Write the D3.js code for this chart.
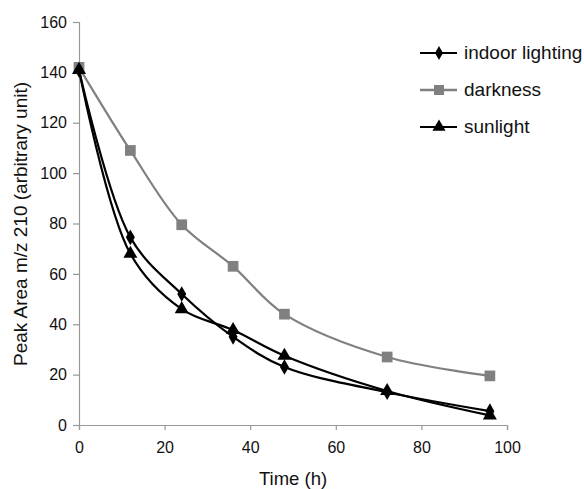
<!DOCTYPE html>
<html lang="en">
<head>
  <meta charset="UTF-8">
  <title>Peak Area vs Time</title>
  <style>
    body { margin: 0; padding: 0; background: #fff; }
    svg text { font-family: "Liberation Sans", Arial, sans-serif; fill: #111; }
  </style>
</head>
<body>
  <script src="https://cdn.jsdelivr.net/npm/d3@7"></script>
  <div id="chart"></div>
  <script>
    // data
    var hours = [0, 12, 24, 36, 48, 72, 96];
    var indoor = [141, 74.5, 52, 35, 23, 13, 5.5];
    var darkness = [142, 109, 79.5, 63, 44, 27, 19.5];
    var sunlight = [141, 68, 46, 37.7, 27.5, 13.5, 3.8];
    var seriesNames = ["indoor lighting", "darkness", "sunlight"];
    var yTicks = [0, 20, 40, 60, 80, 100, 120, 140, 160];
    var xTicks = [0, 20, 40, 60, 80, 100];

    var series = [
      { name: seriesNames[0], values: indoor, color: "#000", marker: "diamond" },
      { name: seriesNames[1], values: darkness, color: "#808080", marker: "square" },
      { name: seriesNames[2], values: sunlight, color: "#000", marker: "triangle" }
    ];

    var W = 584, H = 489;
    var svg = d3.select("#chart").append("svg")
      .attr("width", W)
      .attr("height", H);

    var x = d3.scaleLinear().domain([0, 100]).range([79, 507]);
    var y = d3.scaleLinear().domain([0, 160]).range([425, 22]);

    // axes
    var axisColor = "#999";
    var yAxis = svg.append("g")
      .attr("transform", "translate(" + x(0) + ",0)")
      .call(d3.axisLeft(y).tickValues(yTicks).tickSize(6).tickPadding(6));
    var xAxis = svg.append("g")
      .attr("transform", "translate(0," + y(0) + ")")
      .call(d3.axisBottom(x).tickValues(xTicks).tickSize(5).tickPadding(12));
    [xAxis, yAxis].forEach(function (g) {
      g.select(".domain").attr("stroke", axisColor).attr("stroke-width", 1.2);
      g.selectAll(".tick line").attr("stroke", axisColor).attr("stroke-width", 1.2);
      g.selectAll(".tick text")
        .style("font-size", "16px")
        .style("font-family", "'Liberation Sans', Arial, sans-serif")
        .attr("fill", "#111");
    });

    // axis titles
    svg.append("text")
      .attr("x", 293)
      .attr("y", 485)
      .attr("text-anchor", "middle")
      .style("font-size", "18.5px")
      .text("Time (h)");
    svg.append("text")
      .attr("transform", "translate(27,224) rotate(-90)")
      .attr("text-anchor", "middle")
      .style("font-size", "19px")
      .text("Peak Area m/z 210 (arbitrary unit)");

    var symbols = {
      diamond: d3.symbol().type(d3.symbolDiamond).size(70),
      square: d3.symbol().type(d3.symbolSquare).size(115),
      triangle: d3.symbol().type(d3.symbolTriangle).size(85)
    };
    var legendSymbols = {
      diamond: d3.symbol().type(d3.symbolDiamond).size(55),
      square: d3.symbol().type(d3.symbolSquare).size(100),
      triangle: d3.symbol().type(d3.symbolTriangle).size(75)
    };

    var line = d3.line()
      .x(function (d, i) { return x(hours[i]); })
      .y(function (d) { return y(d); })
      .curve(d3.curveCatmullRom.alpha(0.5));

    series.forEach(function (s) {
      svg.append("path")
        .attr("d", line(s.values))
        .attr("fill", "none")
        .attr("stroke", s.color)
        .attr("stroke-width", 2.2);
    });
    series.forEach(function (s) {
      svg.selectAll(null)
        .data(s.values)
        .enter()
        .append("path")
        .attr("d", symbols[s.marker])
        .attr("transform", function (d, i) { return "translate(" + x(hours[i]) + "," + y(d) + ")"; })
        .attr("fill", s.color);
    });

    // legend
    var legend = svg.append("g");
    series.forEach(function (s, i) {
      var ly = 53 + i * 37;
      legend.append("line")
        .attr("x1", 420).attr("x2", 457)
        .attr("y1", ly).attr("y2", ly)
        .attr("stroke", s.color)
        .attr("stroke-width", i === 1 ? 2.6 : 1.8);
      legend.append("path")
        .attr("d", legendSymbols[s.marker])
        .attr("transform", "translate(439," + ly + ")")
        .attr("fill", s.color);
      legend.append("text")
        .attr("x", 464)
        .attr("y", ly + 6)
        .style("font-size", "19px")
        .text(s.name);
    });
  </script>
</body>
</html>
